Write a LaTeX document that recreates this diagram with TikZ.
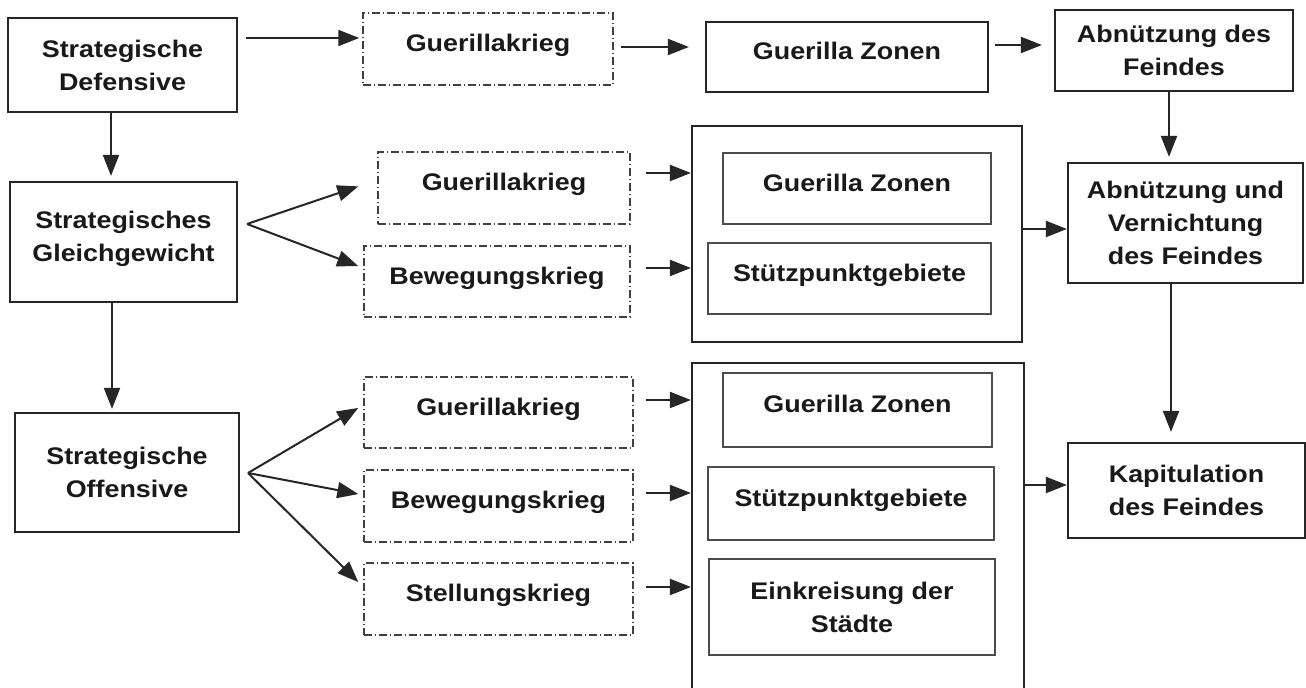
\documentclass[tikz,border=0pt]{standalone}
\usepackage{fontspec}
\setmainfont{Liberation Sans}[FakeStretch=1.12]
\usetikzlibrary{arrows.meta,calc}
\begin{document}
\begin{tikzpicture}[
  x=0.5pt, y=-0.5pt,
  lbl/.style={font=\fontsize{12}{16.5}\selectfont\bfseries, align=center, text=black!90},
  single/.style={text height=9pt, text depth=6pt},
  solidbox/.style={lbl, draw=black!85, line width=1.1pt, inner sep=0pt},
  dashbox/.style={lbl, single, draw=black!75, line width=0.75pt, dash pattern=on 4pt off 1.3pt on 0.9pt off 1.3pt, inner sep=0pt},
  innerbox/.style={lbl, draw=black!70, line width=0.9pt, inner sep=0pt},
  outerbox/.style={draw=black!85, line width=1.1pt, inner sep=0pt},
  arr/.style={draw=black!85, line width=1pt, -{Triangle[length=10.5pt,width=8pt]}},
]
\path[use as bounding box, fill=white] (0,0) rectangle (1306,688);

% left column
\node[solidbox, minimum width=114.5pt, minimum height=47pt] (sd) at (122.5,65) {Strategische\\Defensive};
\node[solidbox, minimum width=113.5pt, minimum height=60pt, text depth=6pt] (sg) at (123.5,242) {Strategisches\\Gleichgewicht};
\node[solidbox, minimum width=112pt, minimum height=59.5pt] (so) at (127,472.5) {Strategische\\Offensive};

% dash-dotted column
\node[dashbox, minimum width=125pt, minimum height=36pt] (g1) at (488,49) {Guerillakrieg};
\node[dashbox, minimum width=126pt, minimum height=36pt] (g2) at (504,188) {Guerillakrieg};
\node[dashbox, minimum width=133pt, minimum height=35.5pt] (b2) at (497,281.5) {Bewegungskrieg};
\node[dashbox, minimum width=134.5pt, minimum height=35.5pt] (g3) at (498.5,412.5) {Guerillakrieg};
\node[dashbox, minimum width=134.5pt, minimum height=36pt] (b3) at (498.5,506) {Bewegungskrieg};
\node[dashbox, minimum width=134.5pt, minimum height=36pt] (s3) at (498.5,599) {Stellungskrieg};

% third column
\node[solidbox, single, minimum width=141pt, minimum height=35pt] (gz1) at (847,57) {Guerilla Zonen};
\node[outerbox, minimum width=165pt, minimum height=108pt] (m2) at (857,234) {};
\node[innerbox, single, minimum width=134pt, minimum height=35.5pt] (gz2) at (857,188.5) {Guerilla Zonen};
\node[innerbox, single, minimum width=141.5pt, minimum height=35.5pt] (sp2) at (849.5,278.5) {Stützpunktgebiete};
\node[outerbox, minimum width=166pt, minimum height=166.5pt] (m3) at (858,529.5) {};
\node[innerbox, single, minimum width=134.5pt, minimum height=37pt] (gz3) at (857.5,410) {Guerilla Zonen};
\node[innerbox, single, minimum width=143pt, minimum height=36.5pt] (sp3) at (851,503.5) {Stützpunktgebiete};
\node[innerbox, minimum width=143pt, minimum height=48pt] (ek3) at (852,607) {Einkreisung der\\Städte};

% right column
\node[solidbox, minimum width=119pt, minimum height=40.5pt] (af) at (1174,50.5) {Abnützung des\\Feindes};
\node[solidbox, minimum width=117.5pt, minimum height=60pt] (avf) at (1185.5,223) {Abnützung und\\Vernichtung\\des Feindes};
\node[solidbox, minimum width=118.5pt, minimum height=47.5pt] (kf) at (1186.5,490.5) {Kapitulation\\des Feindes};

% connectors
\draw[arr, shorten <=4pt, shorten >=1.5pt] (sd.east |- 0,38) -- (g1.west |- 0,38);
\draw[arr, shorten <=3.5pt, shorten >=8pt] (g1.east |- 0,47) -- (gz1.west |- 0,47);
\draw[arr, shorten <=3pt, shorten >=6pt] (gz1.east |- 0,45) -- (af.west |- 0,45);
\draw[arr, shorten >=2.5pt] (af.south -| 1169,0) -- (avf.north -| 1169,0);
\draw[arr, shorten >=2.5pt] (sd.south -| 111,0) -- (sg.north -| 111,0);

\coordinate (f2) at (247,224);
\draw[arr, shorten >=10pt] (f2) -- (g2.west |- 0,180);
\draw[arr, shorten >=2.7pt] (f2) -- (b2.west |- 0,268);
\draw[arr, shorten <=7.5pt] (g2.east |- 0,173) -- (m2.west |- 0,173);
\draw[arr, shorten <=7.5pt] (b2.east |- 0,268) -- (m2.west |- 0,268);
\draw[arr] (m2.east |- 0,229) -- (avf.west |- 0,229);

\draw[arr, shorten >=1.5pt] (sg.south -| 112,0) -- (so.north -| 112,0);
\coordinate (f3) at (248,473);
\draw[arr, shorten >=2.9pt] (f3) -- (g3.west |- 0,405);
\draw[arr, shorten >=2.5pt] (f3) -- (b3.west |- 0,495);
\draw[arr, shorten >=3.5pt] (f3) -- (s3.west |- 0,587);
\draw[arr, shorten <=6pt] (g3.east |- 0,400) -- (m3.west |- 0,400);
\draw[arr, shorten <=6pt] (b3.east |- 0,493) -- (m3.west |- 0,493);
\draw[arr, shorten <=6pt] (s3.east |- 0,587) -- (m3.west |- 0,587);
\draw[arr] (m3.east |- 0,485) -- (kf.west |- 0,485);
\draw[arr, shorten >=5pt] (avf.south -| 1171,0) -- (kf.north -| 1171,0);
\end{tikzpicture}
\end{document}
